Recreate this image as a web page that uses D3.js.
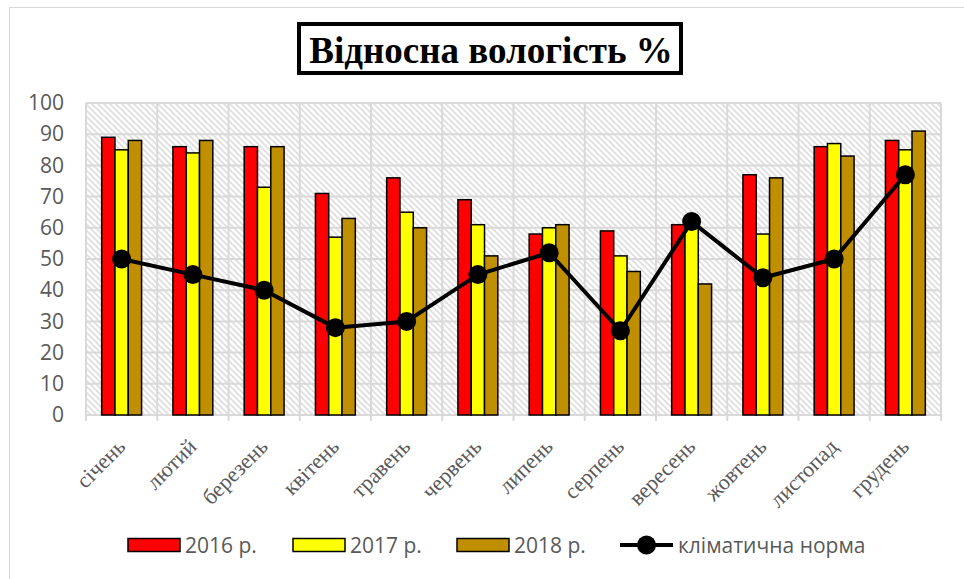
<!DOCTYPE html>
<html>
<head>
<meta charset="utf-8">
<script src="https://cdn.jsdelivr.net/npm/d3@7"></script>
<style>
  html, body { margin: 0; padding: 0; background: #fff; }
  svg { display: block; }
</style>
</head>
<body>
<div id="chart"></div>
<script>
// Data
const months = ['січень', 'лютий', 'березень', 'квітень', 'травень', 'червень',
                'липень', 'серпень', 'вересень', 'жовтень', 'листопад', 'грудень'];
const seriesNames = ['2016 р.', '2017 р.', '2018 р.'];
const values2016 = [89, 86, 86, 71, 76, 69, 58, 59, 61, 77, 86, 88];
const values2017 = [85, 84, 73, 57, 65, 61, 60, 51, 61, 58, 87, 85];
const values2018 = [88, 88, 86, 63, 60, 51, 61, 46, 42, 76, 83, 91];
const climateNorm = [50, 45, 40, 28, 30, 45, 52, 27, 62, 44, 50, 77];
const normName = 'кліматична норма';
const yTicks = [0, 10, 20, 30, 40, 50, 60, 70, 80, 90, 100];
const barColors = ['#FF0000', '#FFFF00', '#BF8F00'];

const width = 964, height = 579;
const plot = { left: 86, right: 941, top: 103, bottom: 415 };

const svg = d3.select('#chart')
    .append('svg')
    .attr('width', width)
    .attr('height', height);

// Hatch pattern for plot background
const defs = svg.append('defs');
const hatch = defs.append('pattern')
    .attr('id', 'hatch')
    .attr('patternUnits', 'userSpaceOnUse')
    .attr('width', 6)
    .attr('height', 6);
hatch.append('rect').attr('width', 6).attr('height', 6).attr('fill', '#fff');
hatch.append('path')
    .attr('d', 'M-1,-1 L7,7 M-1,5 L1,7 M5,-1 L7,1')
    .attr('stroke', '#dedede')
    .attr('stroke-width', 1.6);

// Chart area frame
svg.append('rect')
    .attr('x', 9.5).attr('y', 7.5)
    .attr('width', width + 20).attr('height', height + 20)
    .attr('fill', 'none')
    .attr('stroke', '#d9d9d9')
    .attr('stroke-width', 1);

// Scales
const x = d3.scaleBand()
    .domain(months)
    .range([plot.left, plot.right])
    .paddingInner(0.44)
    .paddingOuter(0.22);
const step = x.step();

const xInner = d3.scaleBand()
    .domain(seriesNames)
    .range([0, x.bandwidth()]);

const y = d3.scaleLinear()
    .domain([0, 100])
    .range([plot.bottom, plot.top]);

// Plot background
svg.append('rect')
    .attr('x', plot.left).attr('y', plot.top)
    .attr('width', plot.right - plot.left)
    .attr('height', plot.bottom - plot.top)
    .attr('fill', 'url(#hatch)');

// Gridlines
const grid = svg.append('g').attr('stroke', '#d9d9d9').attr('stroke-width', 2);
grid.selectAll('.hgrid')
    .data(yTicks)
    .join('line')
    .attr('x1', plot.left).attr('x2', plot.right)
    .attr('y1', d => y(d)).attr('y2', d => y(d));
grid.selectAll('.vgrid')
    .data(d3.range(months.length + 1))
    .join('line')
    .attr('x1', i => plot.left + i * step)
    .attr('x2', i => plot.left + i * step)
    .attr('y1', plot.top)
    .attr('y2', i => plot.bottom + 6);

// Y axis labels
const yAxis = svg.append('g')
    .attr('transform', `translate(${plot.left - 22},0)`)
    .call(d3.axisLeft(y).tickValues(yTicks).tickSize(0).tickPadding(0));
yAxis.select('.domain').remove();
yAxis.selectAll('text')
    .attr('fill', '#595959')
    .style('font-family', '"Open Sans", sans-serif')
    .style('font-size', '21px');

// Bars
const allSeries = [values2016, values2017, values2018];
const groups = svg.append('g')
    .selectAll('g')
    .data(months)
    .join('g')
    .attr('transform', d => `translate(${x(d)},0)`);

groups.selectAll('rect')
    .data((m, i) => seriesNames.map((s, k) => ({ s, k, v: allSeries[k][i] })))
    .join('rect')
    .attr('x', d => xInner(d.s))
    .attr('y', d => y(d.v))
    .attr('width', xInner.bandwidth())
    .attr('height', d => y(0) - y(d.v))
    .attr('fill', d => barColors[d.k])
    .attr('stroke', '#000')
    .attr('stroke-width', 1.5);

// Climate norm line
const cx = m => x(m) + x.bandwidth() / 2;
const line = d3.line()
    .x((d, i) => cx(months[i]))
    .y(d => y(d));
svg.append('path')
    .datum(climateNorm)
    .attr('d', line)
    .attr('fill', 'none')
    .attr('stroke', '#000')
    .attr('stroke-width', 4)
    .attr('stroke-linejoin', 'round');
svg.append('g')
    .selectAll('circle')
    .data(climateNorm)
    .join('circle')
    .attr('cx', (d, i) => cx(months[i]))
    .attr('cy', d => y(d))
    .attr('r', 9.5)
    .attr('fill', '#000');

// X axis labels (rotated)
svg.append('g')
    .selectAll('text')
    .data(months)
    .join('text')
    .attr('transform', d => `translate(${cx(d) + 5},${plot.bottom + 33}) rotate(-45)`)
    .attr('text-anchor', 'end')
    .attr('fill', '#595959')
    .style('font-family', '"Liberation Serif", "Times New Roman", serif')
    .style('font-size', '22px')
    .text(d => d);

// Title
const titleG = svg.append('g');
titleG.append('rect')
    .attr('x', 299).attr('y', 24)
    .attr('width', 382).attr('height', 49)
    .attr('fill', '#fff')
    .attr('stroke', '#000')
    .attr('stroke-width', 4);
titleG.append('text')
    .attr('x', 491).attr('y', 63)
    .attr('text-anchor', 'middle')
    .style('font-family', '"Liberation Serif", "Times New Roman", serif')
    .style('font-weight', 'bold')
    .style('font-size', '37px')
    .attr('fill', '#000')
    .text('Відносна  вологість  %');

// Legend
const legendY = 545;
const legendItems = [
    { name: seriesNames[0], type: 'bar', color: barColors[0], x: 128, tx: 185 },
    { name: seriesNames[1], type: 'bar', color: barColors[1], x: 293, tx: 350 },
    { name: seriesNames[2], type: 'bar', color: barColors[2], x: 457, tx: 514 },
    { name: normName, type: 'line', x: 620, tx: 678 }
];
const legend = svg.append('g');
legendItems.forEach(item => {
    if (item.type === 'bar') {
        legend.append('rect')
            .attr('x', item.x).attr('y', legendY - 6.5)
            .attr('width', 52).attr('height', 13)
            .attr('fill', item.color)
            .attr('stroke', '#000')
            .attr('stroke-width', 1.5);
    } else {
        legend.append('line')
            .attr('x1', item.x).attr('x2', item.x + 53)
            .attr('y1', legendY).attr('y2', legendY)
            .attr('stroke', '#000').attr('stroke-width', 4);
        legend.append('circle')
            .attr('cx', item.x + 26.5).attr('cy', legendY)
            .attr('r', 9.5).attr('fill', '#000');
    }
    legend.append('text')
        .attr('x', item.tx).attr('y', legendY)
        .attr('dy', '0.36em')
        .attr('fill', '#595959')
        .style('font-family', '"Open Sans", sans-serif')
        .style('font-size', '21px')
        .text(item.name);
});
</script>
</body>
</html>
